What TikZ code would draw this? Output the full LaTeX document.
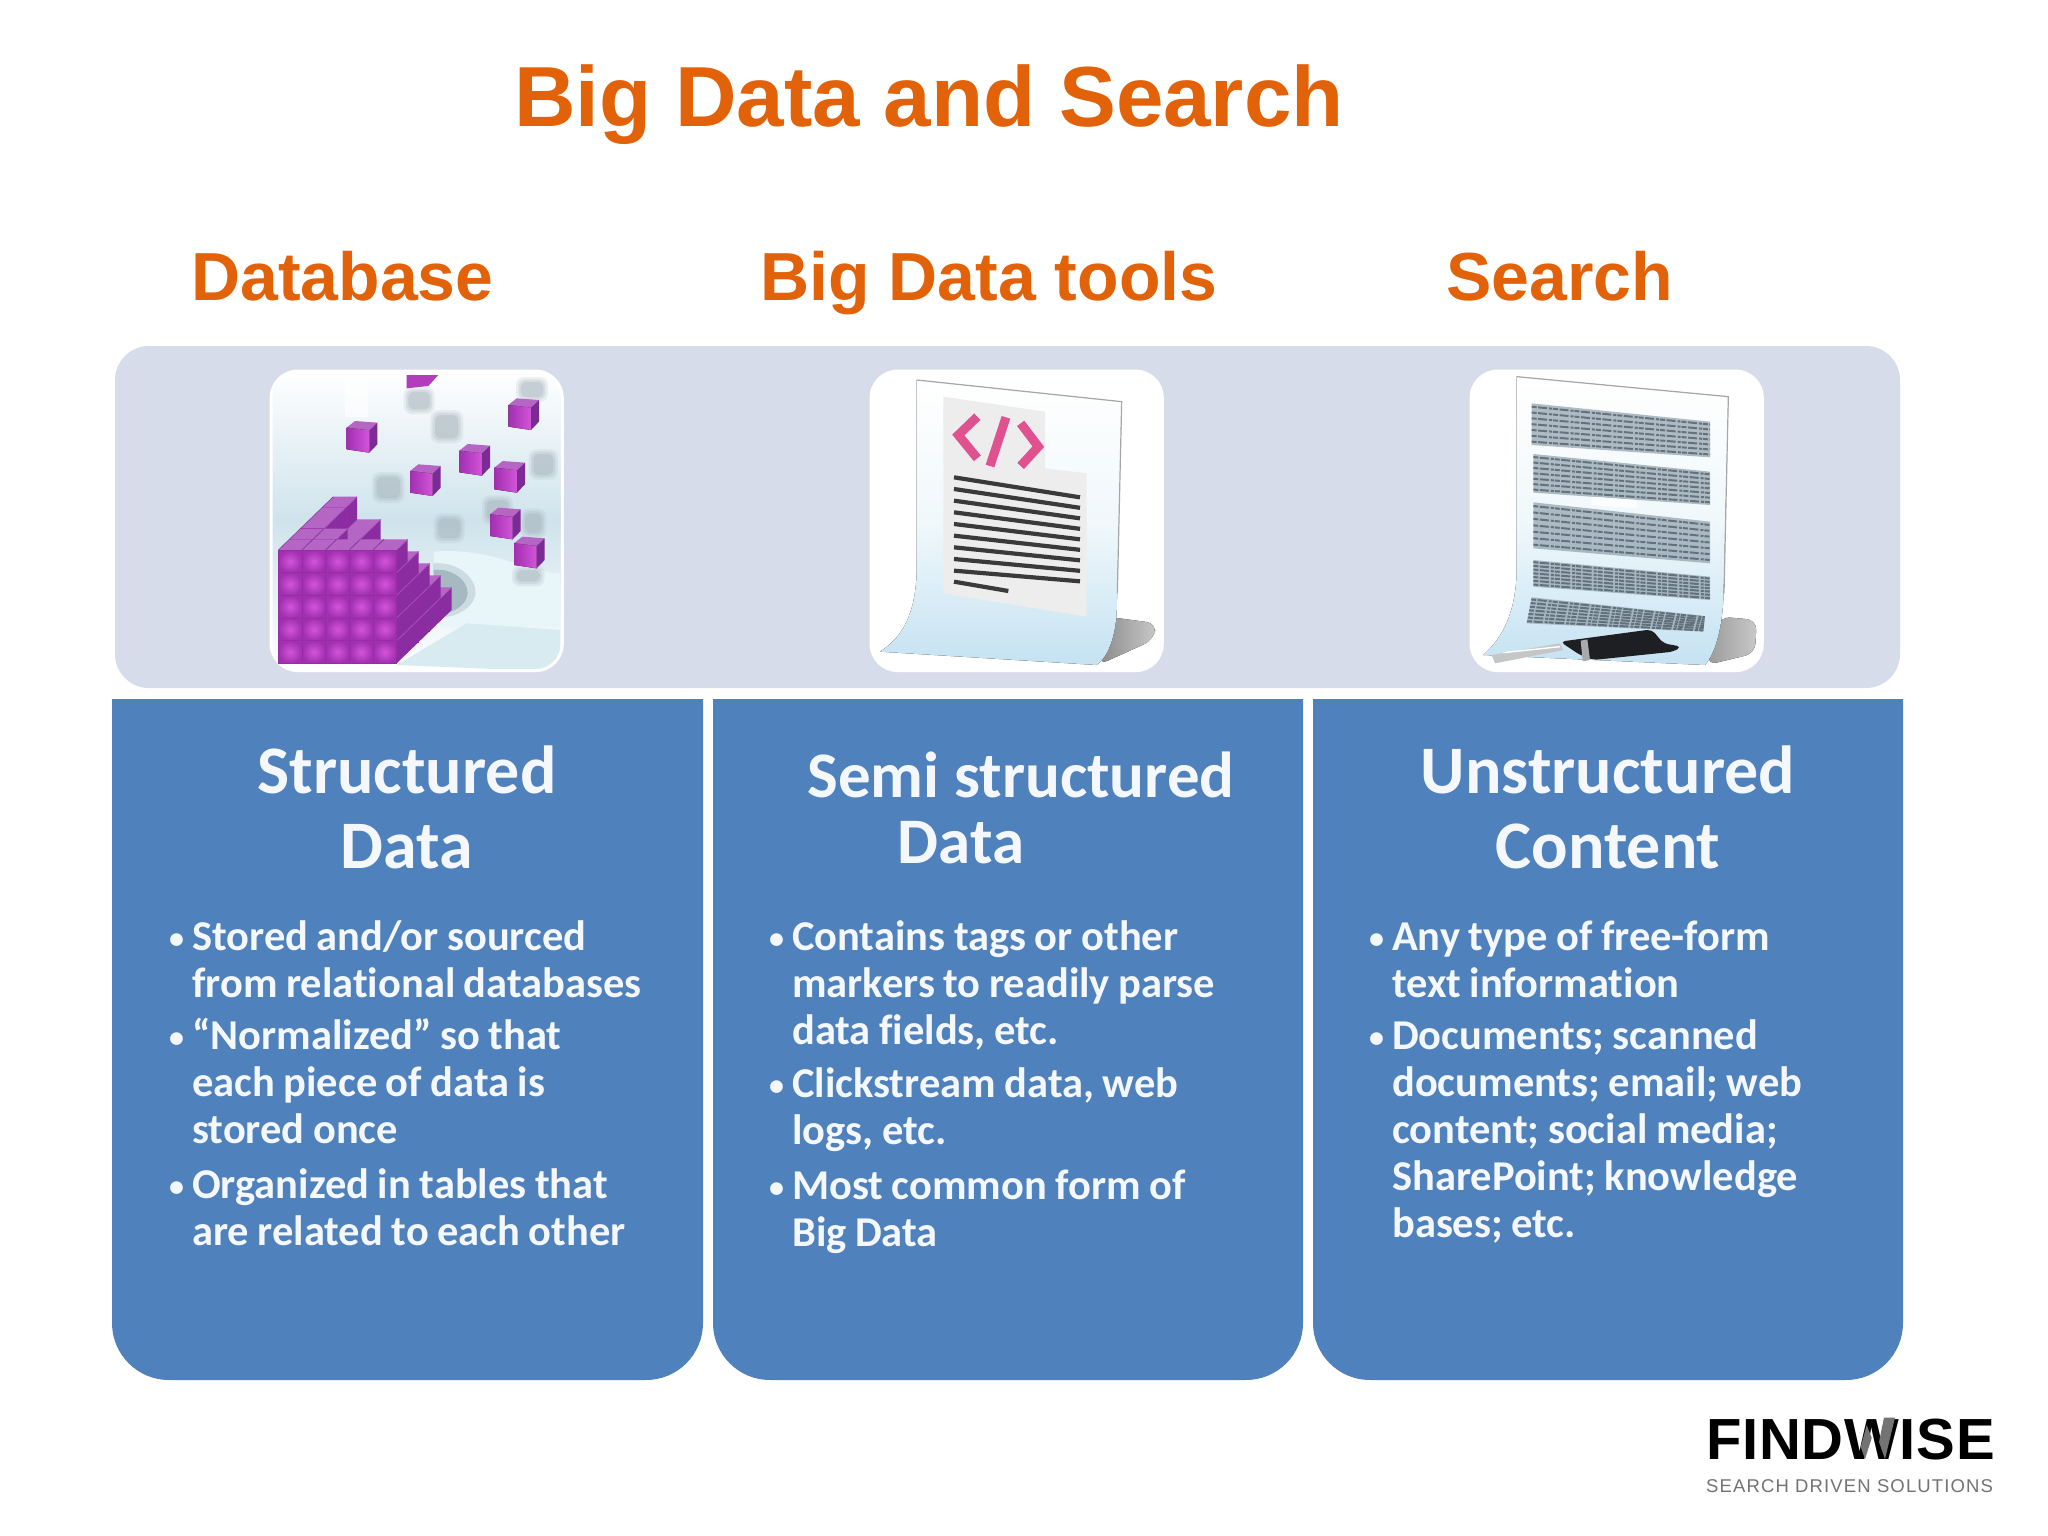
\documentclass[tikz,border=0pt]{standalone}
\usepackage{fontspec}
\setmainfont{Liberation Sans}
\newfontfamily\bodyfont[RawFeature={-liga}]{Carlito}
\usetikzlibrary{calc}
\definecolor{orangetxt}{HTML}{E2620A}
\definecolor{panelc}{HTML}{D6DCEA}
\definecolor{bluec}{HTML}{4F81BD}
\definecolor{bluetx}{HTML}{F4F7FB}
\definecolor{pinkc}{HTML}{E0528F}
\definecolor{ghost}{HTML}{A4B2BA}
\definecolor{cubef}{HTML}{B23CBC}
\definecolor{cubet}{HTML}{B565C4}
\definecolor{cubes}{HTML}{7B2A96}
\newcommand{\dc}[1]{\definecolor{#1}{HTML}{#1}}
\dc{CFE3EC}\dc{E8F5F9}\dc{D8EBF0}\dc{9DB0B8}\dc{8DA1AA}\dc{A82CB4}\dc{D04CD4}\dc{9A2AA8}\dc{B060C0}
\dc{C5E2F2}\dc{F0F8FB}\dc{B0B0B0}\dc{808080}\dc{EDEDED}\dc{3A3A3A}\dc{C8C8C8}\dc{8A8A8A}\dc{8FA0AC}
\dc{4E5A63}\dc{C4C6C8}\dc{A8AAAC}\dc{1D1F22}\dc{8A2DA0}\dc{6F2488}\dc{D454DA}\dc{A030AE}\dc{9A9A9A}
\tikzset{
  titletxt/.style={anchor=base west,inner sep=0,text=orangetxt,font=\bfseries\fontsize{85.3}{90}\selectfont},
  headtxt/.style={anchor=base west,inner sep=0,text=orangetxt,font=\bfseries\fontsize{68}{74}\selectfont},
  colbox/.style={fill=bluec,draw=none},
  coltitle/.style={anchor=base,inner sep=0,text=bluetx,font=\bodyfont\bfseries\fontsize{68}{72}\selectfont},
  coltitleb/.style={anchor=base,inner sep=0,text=bluetx,font=\bodyfont\bfseries\fontsize{65}{70}\selectfont},
  coltext/.style={anchor=north west,inner sep=0,text=bluetx,text width=500pt,font=\bodyfont\bfseries\fontsize{42.5}{47}\selectfont},
  iconbox/.style={rounded corners=27pt},
}
\newcommand{\bitem}[1]{\par\leftskip=23pt\spaceskip=.2em\noindent\llap{\makebox[23pt][l]{\raisebox{1.5pt}{\fontsize{30}{30}\selectfont•}}}#1\par}
\newcommand{\ghostsq}[4]{%
  \fill[ghost,opacity=.18,rounded corners=8pt] (#1-14,#2-14) rectangle (#3+14,#4+14);
  \fill[ghost,opacity=.25,rounded corners=7pt] (#1-7,#2-7) rectangle (#3+7,#4+7);
  \fill[ghost,opacity=.35,rounded corners=6pt] (#1,#2) rectangle (#3,#4);}
\newcommand{\cubelet}[2]{%
  \begin{scope}[shift={(#1,#2)}]
    \fill[cubet] (0,20)--(25,0)--(92,5)--(68,28)--cycle;
    \fill[cubes] (68,28)--(92,5)--(92,70)--(68,95)--cycle;
    \fill[left color=A030AE,right color=D454DA] (0,20)--(68,28)--(68,95)--(0,85)--cycle;
  \end{scope}}
\begin{document}
\begin{tikzpicture}[x=1pt,y=-1pt]
\useasboundingbox (0,0) rectangle (2048,1536);
\fill[white] (0,0) rectangle (2048,1536);

\node[titletxt] (title) at (514,127) {Big Data and Search};
\node[headtxt] (hdb) at (191,300) {Database};
\node[headtxt] (hbd) at (760,300) {Big Data tools};
\node[headtxt] (hse) at (1446,300) {Search};

\fill[panelc,rounded corners=34pt] (115,346) rectangle (1900,688);

% blue columns
\foreach \a/\b in {112/703,713/1303,1313/1903}{
  \fill[colbox] (\a,699) {[rounded corners=57pt] -- (\a,1380) -- (\b,1380)} -- (\b,699) -- cycle;
}

% column titles
\node[coltitle] (t1a) at (407,793) {Structured};
\node[coltitle] (t1b) at (407,868) {Data};
\node[coltitleb] (t2a) at (1021,797) {Semi structured};
\node[coltitleb] (t2b) at (961,863) {Data};
\node[coltitle] (t3a) at (1608,793) {Unstructured};
\node[coltitle] (t3b) at (1608,868) {Content};

% column text
\node[coltext] (b1) at (169,903) {%
\bitem{Stored and/or sourced\\\noindent from relational databases}\vskip5pt
\bitem{“Normalized” so that\\\noindent each piece of data is\\\noindent stored once}\vskip8pt
\bitem{Organized in tables that\\\noindent are related to each other}};
\node[coltext] (b2) at (769,903) {%
\bitem{Contains tags or other\\\noindent markers to readily parse\\\noindent data fields, etc.}\vskip6pt
\bitem{Clickstream data, web\\\noindent logs, etc.}\vskip8pt
\bitem{Most common form of\\\noindent Big Data}};
\node[coltext] (b3) at (1369,903) {%
\bitem{Any type of free-form\\\noindent text information}\vskip5pt
\bitem{Documents; scanned\\\noindent documents; email; web\\\noindent content; social media;\\\noindent SharePoint; knowledge\\\noindent bases; etc.}};

% ---------- icon 1
\begin{scope}[shift={(260,360)},x=.33333pt,y=-.33333pt]
  \begin{scope}
    \clip[iconbox] (33,33) rectangle (907,932);
    \fill[top color=white,bottom color=white,middle color=CFE3EC] (30,30) rectangle (910,935);
    \fill[white,opacity=.6] (255,40) rectangle (325,170);
    \fill[E8F5F9] (520,575) .. controls (700,560) and (800,640) .. (900,640) -- (900,800) -- (540,800) -- cycle;
    \fill[D8EBF0] (410,915) -- (620,790) -- (900,810) -- (900,935) -- cycle;
    \fill[9DB0B8,opacity=.35] (520,610) .. controls (610,600) and (690,690) .. (620,745) .. controls (590,770) and (560,770) .. (530,775) -- cycle;
    \fill[8DA1AA,opacity=.6] (520,630) .. controls (590,620) and (660,690) .. (600,740) .. controls (580,755) and (560,760) .. (530,765) -- cycle;
  \end{scope}
  \draw[white,line width=3pt,iconbox] (33,33) rectangle (907,932);
  \ghostsq{445}{95}{510}{148}
  \ghostsq{525}{165}{595}{235}
  \ghostsq{782}{65}{850}{112}
  \ghostsq{820}{282}{880}{345}
  \ghostsq{350}{350}{420}{415}
  \ghostsq{535}{475}{600}{535}
  \ghostsq{680}{420}{745}{480}
  \ghostsq{795}{460}{845}{520}
  \ghostsq{770}{630}{840}{665}
  \fill[cubef] (440,45) -- (535,45) -- (505,78) -- (440,85) -- cycle;
  \cubelet{260}{183}\cubelet{745}{115}\cubelet{598}{252}\cubelet{703}{303}
  \cubelet{450}{313}\cubelet{690}{443}\cubelet{762}{530}
  % big block: stacked unit cubes, painted from the back to the front
  \foreach \d in {4,3,2,1,0}{
    \foreach \c in {0,1,2,3,4}{
      \pgfmathtruncatemacro{\hh}{5-round(\c*\d/4)}
      \pgfmathsetmacro{\xx}{55+\c*71+\d*33}
      \pgfmathsetmacro{\yb}{910-\d*32}
      \pgfmathsetmacro{\yt}{\yb-\hh*68}
      \fill[cubet] (\xx,\yt) -- (\xx+33,\yt-32) -- (\xx+104,\yt-32) -- (\xx+71,\yt) -- cycle;
      \fill[8A2DA0] (\xx+71,\yt) -- (\xx+104,\yt-32) -- (\xx+104,\yb-32) -- (\xx+71,\yb) -- cycle;
      \draw[6F2488,opacity=.6,line width=.8pt] (\xx,\yt) -- (\xx+33,\yt-32);
      \foreach \k in {1,...,\hh}{
        \pgfmathsetmacro{\yk}{\yb-\k*68}
        \shade[inner color=D454DA,outer color=A030AE] (\xx,\yk) rectangle (\xx+71,\yk+68);
        \draw[9A2AA8,line width=.8pt] (\xx,\yk) rectangle (\xx+71,\yk+68);
        \draw[B060C0,opacity=.7,line width=.8pt] (\xx+71,\yk) -- (\xx+104,\yk-32);
      }
    }
  }
\end{scope}

% ---------- icon 2
\begin{scope}[shift={(860,360)},x=.33333pt,y=-.33333pt]
  \fill[white,iconbox] (30,30) rectangle (910,935);
  \fill[left color=8A8A8A,right color=C8C8C8,rounded corners=10pt] (740,770) -- (890,790) -- (880,840) -- (715,915) -- cycle;
  \fill[top color=white,bottom color=C5E2F2,middle color=F0F8FB] (170,60) -- (785,125) -- (770,760) .. controls (765,830) and (745,890) .. (710,915) -- (60,875) .. controls (130,830) and (165,760) .. (170,640) -- cycle;
  \draw[gray!70,line width=1.2pt] (170,60) -- (785,125) -- (772,700);
  \draw[gray!45,line width=.8pt] (170,60) -- (170,640);
  \fill[EDEDED] (250,110) -- (555,155) -- (555,325) -- (680,340) -- (680,770) -- (250,700) -- cycle;
  \draw[pinkc,line width=9pt,line join=miter] (352,170) -- (295,225) -- (352,295);
  \draw[pinkc,line width=9pt] (438,172) -- (390,318);
  \draw[pinkc,line width=9pt,line join=miter] (482,190) -- (535,260) -- (482,318);
  \foreach \y in {0,...,8}{
    \draw[3A3A3A,line width=4.2pt] (282,352+\y*35) -- (660,412+\y*31.5);
  }
  \draw[3A3A3A,line width=4.2pt] (282,665) -- (445,693);
  \draw[white,line width=3pt,iconbox] (33,33) rectangle (907,932);
\end{scope}

% ---------- icon 3
\begin{scope}[shift={(1460,360)},x=.33333pt,y=-.33333pt]
  \fill[white,iconbox] (30,30) rectangle (910,935);
  \fill[left color=9A9A9A,right color=C8C8C8,rounded corners=10pt] (780,770) -- (890,780) -- (885,880) -- (740,915) -- cycle;
  \fill[top color=white,bottom color=C5E2F2,middle color=F0F8FB] (170,50) -- (805,110) -- (790,720) .. controls (785,810) and (765,880) .. (735,915) -- (70,885) .. controls (130,830) and (165,760) .. (170,640) -- cycle;
  \draw[gray!70,line width=1.2pt] (170,50) -- (805,110) -- (792,700);
  \foreach \xa/\ya/\xb/\yb/\xc/\yc/\xd/\yd in {
      215/130/750/185/750/292/215/255,
      220/282/750/335/750/435/220/398,
      220/427/750/485/750/610/220/565,
      220/600/750/650/750/720/220/680,
      215/712/735/768/730/815/200/790}{
    \fill[8FA0AC,opacity=.7] (\xa,\ya) -- (\xb,\yb) -- (\xc,\yc) -- (\xd,\yd) -- cycle;
    \foreach \t in {.08,.22,.36,.5,.64,.78,.92}{
      \draw[4E5A63,line width=2pt,dash pattern=on 5pt off 1.5pt on 9pt off 2pt on 3pt off 1pt,opacity=.75]
        ($(\xa,\ya)!\t!(\xd,\yd)$) -- ($(\xb,\yb)!\t!(\xc,\yc)$);
    }
  }
  \fill[white,opacity=.8] (395,410) -- (530,420) -- (530,445) -- (395,435) -- cycle;
  \fill[C4C6C8] (95,885) -- (300,850) -- (310,870) -- (105,910) -- cycle;
  \draw[white,line width=1.4pt] (130,878) -- (300,860);
  \fill[1D1F22,rounded corners=5pt] (300,845) -- (575,808) -- (610,850) -- (665,860) -- (640,875) -- (400,900) -- (360,885) -- cycle;
  \fill[A8AAAC] (362,842) -- (382,838) -- (390,900) -- (368,904) -- cycle;
  \draw[white,line width=3pt,iconbox] (33,33) rectangle (907,932);
\end{scope}

% logo
\node[anchor=base west,inner sep=0,text=black,font=\bfseries\fontsize{58}{60}\selectfont\addfontfeatures{LetterSpace=1.3}] (logo) at (1706,1459) {FINDWISE};
\node[anchor=base west,inner sep=0,text=black!55,font=\fontsize{18.5}{20}\selectfont\addfontfeatures{LetterSpace=6.1}] (tag) at (1706,1492) {SEARCH DRIVEN SOLUTIONS};
\fill[gray!90!black] (1884,1417.5) -- (1895,1417.5) -- (1885,1459) -- (1879,1442) -- cycle;
\fill[gray!90!black] (1865,1459) -- (1860.7,1447) -- (1866.7,1425) -- (1871.7,1438) -- cycle;
\end{tikzpicture}
\end{document}
